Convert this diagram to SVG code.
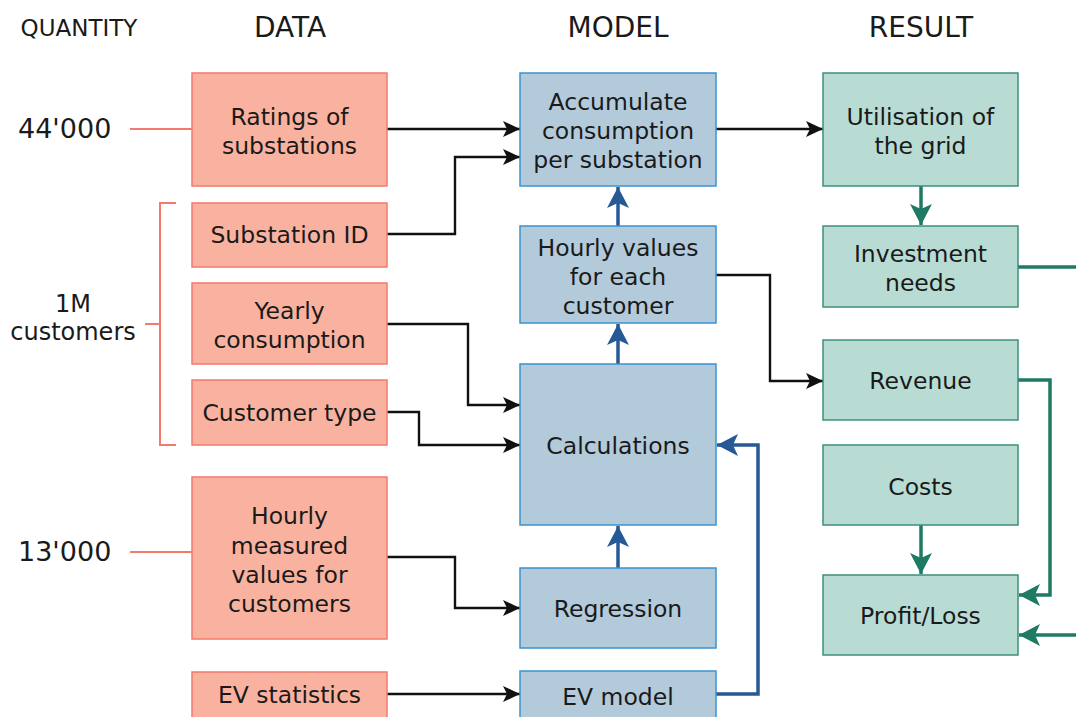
<svg xmlns="http://www.w3.org/2000/svg" width="1076" height="717" viewBox="0 0 1076 717">
<defs>
<style>
text{font-family:"DejaVu Sans","Verdana",sans-serif;fill:#1a1a1a;text-anchor:middle}
.t{font-size:23.5px}
.h{font-size:28px}
.q{font-size:23px}
.c{font-size:24px}
.n{font-size:27px;text-anchor:start}
.data rect{fill:#FAB2A0;stroke:#F47A6E;stroke-width:1.5}
.model rect{fill:#B3CADB;stroke:#3A93D0;stroke-width:1.5}
.res rect{fill:#B8DCD4;stroke:#3C8F7B;stroke-width:1.5}
.k{fill:none;stroke:#111;stroke-width:2.4}
.b{fill:none;stroke:#265A94;stroke-width:3.5}
.g{fill:none;stroke:#1F7A63;stroke-width:3.5}
.s{fill:none;stroke:#F47A6E;stroke-width:2}
</style>
<marker id="ak" markerUnits="userSpaceOnUse" markerWidth="20" markerHeight="20" viewBox="0 0 20 20" refX="19" refY="10" orient="auto"><path d="M2,2 L19,10 L2,18 L6,10 Z" fill="#111"/></marker>
<marker id="ab" markerUnits="userSpaceOnUse" markerWidth="24" markerHeight="24" viewBox="0 0 24 24" refX="23" refY="12" orient="auto"><path d="M2,1 L23,12 L2,23 L7,12 Z" fill="#265A94"/></marker>
<marker id="ag" markerUnits="userSpaceOnUse" markerWidth="24" markerHeight="24" viewBox="0 0 24 24" refX="23" refY="12" orient="auto"><path d="M2,1 L23,12 L2,23 L7,12 Z" fill="#1F7A63"/></marker>
</defs>
<rect width="1076" height="717" fill="#fff"/>

<g id="headers">
<text class="q" x="79" y="36">QUANTITY</text>
<text class="h" x="290" y="37">DATA</text>
<text class="h" x="618" y="37">MODEL</text>
<text class="h" x="921" y="37">RESULT</text>
</g>

<g id="quantities">
<text class="n" x="18" y="138">44'000</text>
<text class="n" x="18" y="561">13'000</text>
<text class="c" x="73" y="312">1M</text>
<text class="c" x="73" y="340">customers</text>
<path class="s" d="M130,129 H192"/>
<path class="s" d="M130,552 H192"/>
<path class="s" d="M176,203 H160 V445 H176 M145,324 H160"/>
</g>

<g id="connectors">
<path class="k" marker-end="url(#ak)" d="M387,129 H520"/>
<path class="k" marker-end="url(#ak)" d="M387,234 H455 V157 H520"/>
<path class="k" marker-end="url(#ak)" d="M716,129 H823"/>
<path class="k" marker-end="url(#ak)" d="M716,275 H770 V381 H823"/>
<path class="k" marker-end="url(#ak)" d="M387,324 H468 V405 H520"/>
<path class="k" marker-end="url(#ak)" d="M387,412 H419 V445 H520"/>
<path class="k" marker-end="url(#ak)" d="M387,557 H455 V608 H520"/>
<path class="k" marker-end="url(#ak)" d="M387,694 H520"/>
<path class="b" marker-end="url(#ab)" d="M618,226 V187"/>
<path class="b" marker-end="url(#ab)" d="M618,364 V324"/>
<path class="b" marker-end="url(#ab)" d="M618,568 V526"/>
<path class="b" marker-end="url(#ab)" d="M716,694 H758 V445 H717"/>
<path class="g" marker-end="url(#ag)" d="M921,186 V225"/>
<path class="g" d="M1018,267 H1076"/>
<path class="g" marker-end="url(#ag)" d="M1018,380 H1050 V595 H1019"/>
<path class="g" marker-end="url(#ag)" d="M921,525 V574"/>
<path class="g" marker-end="url(#ag)" d="M1076,635 H1019"/>
</g>

<g id="n-ratings" class="data"><rect x="192" y="73" width="195" height="113"/><text class="t" x="289.5" y="125">Ratings of</text><text class="t" x="289.5" y="154">substations</text></g>
<g id="n-subid" class="data"><rect x="192" y="203" width="195" height="64"/><text class="t" x="289.5" y="243">Substation ID</text></g>
<g id="n-yearly" class="data"><rect x="192" y="283" width="195" height="81"/><text class="t" x="289.5" y="319">Yearly</text><text class="t" x="289.5" y="348">consumption</text></g>
<g id="n-ctype" class="data"><rect x="192" y="380" width="195" height="65"/><text class="t" x="289.5" y="421">Customer type</text></g>
<g id="n-hourlymeas" class="data"><rect x="192" y="477" width="195" height="162"/><text class="t" x="289.5" y="524">Hourly</text><text class="t" x="289.5" y="554">measured</text><text class="t" x="289.5" y="583">values for</text><text class="t" x="289.5" y="612">customers</text></g>
<g id="n-evstats" class="data"><rect x="192" y="672" width="195" height="50"/><text class="t" x="289.5" y="703">EV statistics</text></g>

<g id="n-accum" class="model"><rect x="520" y="73" width="196" height="113"/><text class="t" x="618" y="110">Accumulate</text><text class="t" x="618" y="139">consumption</text><text class="t" x="618" y="168">per substation</text></g>
<g id="n-hourlyval" class="model"><rect x="520" y="226" width="196" height="97"/><text class="t" x="618" y="256">Hourly values</text><text class="t" x="618" y="285">for each</text><text class="t" x="618" y="314">customer</text></g>
<g id="n-calc" class="model"><rect x="520" y="364" width="196" height="161"/><text class="t" x="618" y="454">Calculations</text></g>
<g id="n-regr" class="model"><rect x="520" y="568" width="196" height="80"/><text class="t" x="618" y="617">Regression</text></g>
<g id="n-evmodel" class="model"><rect x="520" y="671" width="196" height="51"/><text class="t" x="618" y="705">EV model</text></g>

<g id="n-util" class="res"><rect x="823" y="73" width="195" height="113"/><text class="t" x="920.5" y="125">Utilisation of</text><text class="t" x="920.5" y="154">the grid</text></g>
<g id="n-invest" class="res"><rect x="823" y="226" width="195" height="81"/><text class="t" x="920.5" y="262">Investment</text><text class="t" x="920.5" y="291">needs</text></g>
<g id="n-revenue" class="res"><rect x="823" y="340" width="195" height="80"/><text class="t" x="920.5" y="389">Revenue</text></g>
<g id="n-costs" class="res"><rect x="823" y="445" width="195" height="80"/><text class="t" x="920.5" y="495">Costs</text></g>
<g id="n-profit" class="res"><rect x="823" y="575" width="195" height="80"/><text class="t" x="920.5" y="624">Profit/Loss</text></g>
</svg>
